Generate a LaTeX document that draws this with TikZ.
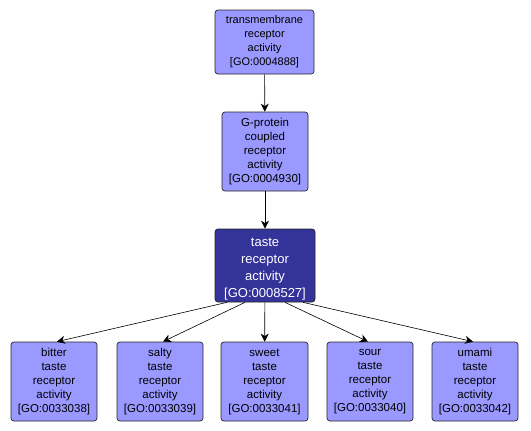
\documentclass[tikz,border=0pt]{standalone}
\usepackage{fontspec}
\setmainfont{Liberation Sans}
\usetikzlibrary{arrows.meta}
\definecolor{lightgo}{HTML}{9999FF}
\definecolor{darkgo}{HTML}{333399}
\tikzset{
  x=1pt, y=-1pt,
  goterm/.style={draw=black!85, fill=lightgo, rounded corners=3pt, align=center,
    font=\fontsize{11.5}{14}\selectfont, inner sep=0pt, line width=0.7pt},
  gofocus/.style={goterm, fill=darkgo, text=white, font=\fontsize{13}{17}\selectfont},
  focustext/.style={align=center, text=white, font=\fontsize{13}{17}\selectfont, inner sep=0pt},
  link/.style={-{Stealth[length=8pt,width=8pt,inset=2.5pt]}, black, line width=0.6pt}
}
\begin{document}
\begin{tikzpicture}
\useasboundingbox (0,0) rectangle (531,431);
\node[goterm, font=\fontsize{11}{14}\selectfont, minimum width=99pt, minimum height=64pt] (t1) at (264.5,42) {transmembrane\\receptor\\activity\\{[GO:0004888]}};
\node[goterm, minimum width=86pt, minimum height=79pt] (t2) at (265,151.5) {G-protein\\coupled\\receptor\\activity\\{[GO:0004930]}};
\node[gofocus, minimum width=100pt, minimum height=73pt] (t3) at (265,265.5) {};
\node[focustext] (t3txt) at (265,269.5) {taste\\receptor\\activity\\{[GO:0008527]}};
\node[goterm, minimum width=86pt, minimum height=79pt] (b1) at (54,381.5) {bitter\\taste\\receptor\\activity\\{[GO:0033038]}};
\node[goterm, minimum width=86pt, minimum height=79pt] (b2) at (160,381.5) {salty\\taste\\receptor\\activity\\{[GO:0033039]}};
\node[goterm, minimum width=87pt, minimum height=79pt] (b3) at (264.5,381.5) {sweet\\taste\\receptor\\activity\\{[GO:0033041]}};
\node[goterm, minimum width=86pt, minimum height=79pt] (b4) at (370,381.5) {sour\\taste\\receptor\\activity\\{[GO:0033040]}};
\node[goterm, minimum width=86pt, minimum height=79pt] (b5) at (475,381.5) {umami\\taste\\receptor\\activity\\{[GO:0033042]}};
\draw[link] (t1) -- (t2);
\draw[link] (t2) -- (t3);
\coordinate (s1) at ([xshift=-38pt]t3.south);
\coordinate (s2) at ([xshift=-20pt]t3.south);
\coordinate (s4) at ([xshift=20pt]t3.south);
\coordinate (s5) at ([xshift=38pt]t3.south);
\draw[link] (s1) -- ([xshift=3pt]b1.north);
\draw[link] (s2) -- ([xshift=3pt]b2.north);
\draw[link] (t3) -- (b3);
\draw[link] (s4) -- ([xshift=-2pt]b4.north);
\draw[link] (s5) -- ([xshift=-2pt]b5.north);
\end{tikzpicture}
\end{document}
